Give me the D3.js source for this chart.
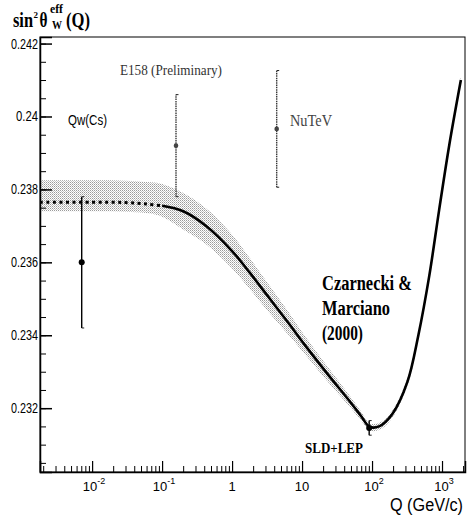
<!DOCTYPE html>
<html>
<head>
<meta charset="utf-8">
<script src="https://cdn.jsdelivr.net/npm/d3@7"></script>
<style>
  body { margin: 0; background: #fff; }
</style>
</head>
<body>
<svg id="chart" width="472" height="517"></svg>
<script>
// running sin^2 theta_W(Q)
var curveQ = [0.0018, 0.01, 0.03, 0.06, 0.1, 0.2, 0.43, 1.0, 1.8, 3.4, 6.6, 11, 24, 47, 70, 92, 126, 195, 320, 460, 660, 910, 1270, 1860];
var curveS = [0.23765, 0.23765, 0.23764, 0.2376, 0.23755, 0.2374, 0.23699, 0.23631, 0.23571, 0.23502, 0.2343, 0.23373, 0.2329, 0.23221, 0.23178, 0.23149, 0.2315, 0.23184, 0.23272, 0.23401, 0.23565, 0.23744, 0.23922, 0.241];
var bandHi = [0.23825, 0.23825, 0.23824, 0.2382, 0.23815, 0.2379, 0.23747, 0.23676, 0.23611, 0.23537, 0.2346, 0.23398, 0.2331, 0.23236, 0.2319, 0.23159, 0.2316, 0.23194, 0.23282, 0.23411, 0.23575, 0.23754, 0.23932, 0.2411];
var bandLo = [0.2374, 0.2374, 0.23739, 0.23735, 0.23725, 0.2369, 0.23649, 0.23583, 0.23526, 0.23462, 0.23398, 0.23348, 0.2327, 0.23206, 0.23166, 0.23139, 0.2314, 0.23174, 0.23262, 0.23391, 0.23555, 0.23734, 0.23912, 0.2409];
var dashedUpTo = 0.1;

// measurements
var pointNames = ["Qw(Cs)", "E158", "NuTeV", "SLD+LEP"];
var pointQ = [0.0071, 0.158, 4.34, 91];
var pointS = [0.2360, 0.2392, 0.23966, 0.23146];
var pointErr = [0.0018, 0.0014, 0.0016, 0.0002];

// axes
var yMajor = [0.232, 0.234, 0.236, 0.238, 0.24, 0.242];
var yLabels = ["0.232", "0.234", "0.236", "0.238", "0.24", "0.242"];
var xMajor = [0.01, 0.1, 1, 10, 100, 1000];
var xLabelBase = ["10", "10", "1", "10", "10", "10"];
var xLabelExp = ["-2", "-1", "", "", "2", "3"];

var svg = d3.select("#chart");
var frameL = 40, frameR = 465, frameT = 37, frameB = 472;

var x = d3.scaleLog().domain([0.0018, 2130]).range([frameL, frameR]);
var y = d3.scaleLinear().domain([0.23025, 0.24218]).range([frameB, frameT]);

var sans = "'Liberation Sans', Arial, sans-serif";
var serif = "'Liberation Serif', 'Times New Roman', serif";

function addText(g, px, py, str, size, family, weight, tl, fill) {
  var t = g.append("text")
      .attr("x", px)
      .attr("y", py)
      .style("font-family", family)
      .style("font-size", size + "px")
      .style("font-weight", weight)
      .style("fill", fill || "#000")
      .text(str);
  if (tl) t.attr("textLength", tl).attr("lengthAdjust", "spacingAndGlyphs");
  return t;
}

// dotted grey fill for the band
var pat = svg.append("defs").append("pattern")
    .attr("id", "dots")
    .attr("width", 2).attr("height", 2)
    .attr("patternUnits", "userSpaceOnUse");
pat.append("rect").attr("width", 2).attr("height", 2).attr("fill", "#fff");
pat.append("rect").attr("width", 1).attr("height", 1).attr("fill", "#9a9a9a");
pat.append("rect").attr("x", 1).attr("y", 1).attr("width", 1).attr("height", 1).attr("fill", "#c4c4c4");

var curve = curveQ.map(function(q, i) {
  return { q: q, s: curveS[i], hi: bandHi[i], lo: bandLo[i] };
});

var band = d3.area()
    .x(function(d) { return x(d.q); })
    .y0(function(d) { return y(d.lo); })
    .y1(function(d) { return y(d.hi); })
    .curve(d3.curveCatmullRom.alpha(0.5));

svg.append("path")
    .datum(curve)
    .attr("d", band)
    .attr("fill", "url(#dots)");

var line = d3.line()
    .x(function(d) { return x(d.q); })
    .y(function(d) { return y(d.s); })
    .curve(d3.curveCatmullRom.alpha(0.5));

svg.append("path")
    .datum(curve.filter(function(d) { return d.q <= dashedUpTo; }))
    .attr("d", line)
    .attr("fill", "none")
    .attr("stroke", "#000")
    .attr("stroke-width", 3)
    .attr("stroke-dasharray", "3,3.5");

svg.append("path")
    .datum(curve.filter(function(d) { return d.q >= dashedUpTo; }))
    .attr("d", line)
    .attr("fill", "none")
    .attr("stroke", "#000")
    .attr("stroke-width", 2.6);

// measurements with error bars
var pts = pointQ.map(function(q, i) {
  return { name: pointNames[i], q: q, s: pointS[i], e: pointErr[i] };
});
var grey = function(d) { return d.name == "E158" || d.name == "NuTeV"; };

var pg = svg.append("g").selectAll("g")
    .data(pts)
    .enter().append("g");

pg.append("line")
    .attr("x1", function(d) { return x(d.q); })
    .attr("x2", function(d) { return x(d.q); })
    .attr("y1", function(d) { return y(d.s - d.e); })
    .attr("y2", function(d) { return y(d.s + d.e); })
    .attr("stroke", function(d) { return grey(d) ? "#3a3a3a" : "#000"; })
    .attr("stroke-width", 1.4)
    .attr("stroke-dasharray", function(d) { return grey(d) ? "1.5,0.8" : null; });

[-1, 1].forEach(function(sgn) {
  pg.append("line")
      .attr("x1", function(d) { return x(d.q); })
      .attr("x2", function(d) { return x(d.q) + 2.5; })
      .attr("y1", function(d) { return y(d.s + sgn * d.e); })
      .attr("y2", function(d) { return y(d.s + sgn * d.e); })
      .attr("stroke", "#222")
      .attr("stroke-width", 1);
});

pg.append("circle")
    .attr("cx", function(d) { return x(d.q); })
    .attr("cy", function(d) { return y(d.s); })
    .attr("r", function(d) { return grey(d) ? 2.3 : 3; })
    .attr("fill", function(d) { return grey(d) ? "#444" : "#000"; });

// frame
svg.append("rect")
    .attr("x", frameL).attr("y", frameT)
    .attr("width", frameR - frameL).attr("height", frameB - frameT)
    .attr("fill", "none")
    .attr("stroke", "#000")
    .attr("stroke-width", 1);

// y axis, ticks pointing inward
var yMinor = d3.range(0.2305, 0.2422, 0.0005);
svg.append("g")
    .attr("transform", "translate(" + frameL + ",0)")
    .call(d3.axisLeft(y).tickValues(yMinor).tickSize(-6).tickFormat(""))
    .call(function(g) { g.select(".domain").remove(); });

var yAxis = svg.append("g")
    .attr("transform", "translate(" + frameL + ",0)")
    .call(d3.axisLeft(y).tickValues(yMajor).tickSize(-12).tickFormat(""));
yAxis.select(".domain").attr("stroke-width", 1.5);
yAxis.selectAll(".tick line").attr("stroke-width", 1.5);

yMajor.forEach(function(v, i) {
  addText(svg, 38, y(v) + 5, yLabels[i], 14, sans, "normal", yLabels[i].length == 5 ? 27 : 22)
      .attr("text-anchor", "end");
});

// x axis, log ticks pointing inward
var xMinor = [];
[-3, -2, -1, 0, 1, 2, 3].forEach(function(p) {
  for (var k = 2; k <= 9; k++) {
    var v = k * Math.pow(10, p);
    if (v >= 0.0018 && v <= 2130) xMinor.push(v);
  }
});
svg.append("g")
    .attr("transform", "translate(0," + frameB + ")")
    .call(d3.axisBottom(x).tickValues(xMinor).tickSize(-6).tickFormat(""))
    .call(function(g) { g.select(".domain").remove(); });

var xAxis = svg.append("g")
    .attr("transform", "translate(0," + frameB + ")")
    .call(d3.axisBottom(x).tickValues(xMajor).tickSize(-11).tickFormat(""));
xAxis.select(".domain").attr("stroke-width", 1.5);
xAxis.selectAll(".tick line").attr("stroke-width", 1.2);

xMajor.forEach(function(v, i) {
  var t = svg.append("text")
      .attr("x", x(v) + (xLabelExp[i] ? 2 : 0))
      .attr("y", 491)
      .attr("text-anchor", "middle")
      .style("font-family", sans)
      .style("font-size", "13px");
  t.append("tspan").text(xLabelBase[i]);
  if (xLabelExp[i]) {
    t.append("tspan").attr("dy", -7).style("font-size", "9px").text(xLabelExp[i]);
  }
});

addText(svg, 463, 511, "Q (GeV/c)", 18, sans, "normal", 73).attr("text-anchor", "end");

// title sin^2 theta_W^eff (Q)
addText(svg, 13, 27, "sin", 20, serif, "bold", 20);
addText(svg, 33.5, 18, "2", 9, serif, "bold");
addText(svg, 39.5, 27, "\u03b8", 20, serif, "bold", 8);
addText(svg, 50, 13, "eff", 12, serif, "bold", 13);
addText(svg, 52, 29, "W", 12, serif, "bold", 10);
addText(svg, 66, 27, "(Q)", 20, serif, "bold", 24);

// annotations
addText(svg, 68, 125, "Qw(Cs)", 15, sans, "normal", 39);
addText(svg, 120, 75, "E158 (Preliminary)", 15, serif, "normal", 102, "#333");
addText(svg, 290, 126, "NuTeV", 17, serif, "normal", 42, "#444");
addText(svg, 322, 290, "Czarnecki &", 20, serif, "bold", 90);
addText(svg, 322, 315, "Marciano", 20, serif, "bold", 68);
addText(svg, 322, 340, "(2000)", 20, serif, "bold", 41);
addText(svg, 305, 453, "SLD+LEP", 14, serif, "bold", 58);
</script>
</body>
</html>
